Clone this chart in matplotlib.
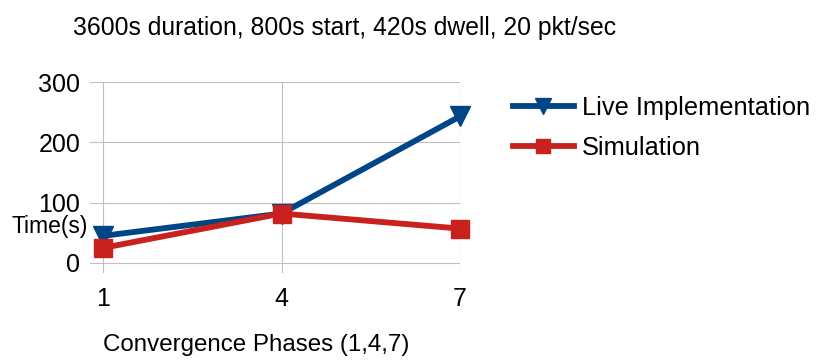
import matplotlib
matplotlib.use("Agg")
import matplotlib.pyplot as plt

# data
phases = [1, 4, 7]
live_impl = [45, 82, 243]
simulation = [25, 82, 57]
y_ticks = [0, 100, 200, 300]

plt.rcParams['font.family'] = ['Liberation Sans', 'DejaVu Sans']

fig = plt.figure(figsize=(8.23, 3.6), dpi=100)
ax = fig.add_axes([90 / 823, 87 / 360, 370 / 823, 191 / 360])

ax.plot(phases, live_impl, color='#004586', linewidth=4.2, marker='v',
        markersize=15, label='Live Implementation', clip_on=False)
ax.plot(phases, simulation, color='#c9211e', linewidth=4.2, marker='s',
        markersize=13, label='Simulation', clip_on=False)

ax.set_xlim(0.78, 7)
ax.set_ylim(-16.6, 300)
ax.set_xticks(phases)
ax.set_yticks(y_ticks)
ax.tick_params(axis='both', length=0, labelsize=18, pad=7)
ax.tick_params(axis='x', pad=10)
for s in ax.spines.values():
    s.set_visible(False)

# grid lines
for v in y_ticks:
    ax.axhline(v, color='#c0c0c0', linewidth=0.8, zorder=0)
for p in phases:
    ax.axvline(p, color='#c0c0c0', linewidth=0.8, zorder=0)

fig.text(345 / 823, 1 - 28 / 360, '3600s duration, 800s start, 420s dwell, 20 pkt/sec',
         ha='center', va='center', fontsize=17.8)
fig.text(12 / 823, 1 - 227 / 360, 'Time(s)', ha='left', va='center', fontsize=16.5)
fig.text(103 / 823, 1 - 345 / 360, 'Convergence Phases (1,4,7)', ha='left',
         va='center', fontsize=17.4)

fig.legend(loc='center left', bbox_to_anchor=(490 / 823, 1 - 128 / 360),
           frameon=False, fontsize=18.3, handlelength=2.4, handletextpad=0.3,
           labelspacing=0.6, markerscale=0.75)

fig.savefig('out.png', dpi=100)
